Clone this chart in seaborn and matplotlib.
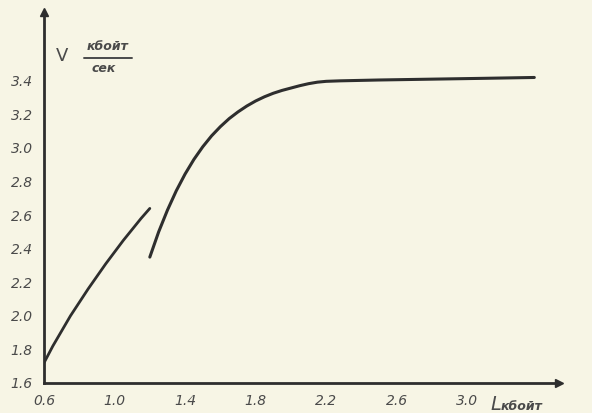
import matplotlib.pyplot as plt
import seaborn as sns
import pandas as pd

# скорость V (кбойт/сек) в зависимости от L (кбойт)
L1 = [0.60, 0.65, 0.70, 0.75, 0.80, 0.85, 0.90, 0.95, 1.00, 1.05, 1.10, 1.15, 1.20]
V1 = [1.72, 1.82, 1.91, 2.00, 2.08, 2.16, 2.235, 2.31, 2.38, 2.45, 2.515, 2.58, 2.64]

L2 = [1.20, 1.25, 1.30, 1.35, 1.40, 1.45, 1.50, 1.55, 1.60, 1.65, 1.70, 1.75, 1.80,
      1.85, 1.90, 1.95, 2.00, 2.05, 2.10, 2.15, 2.20, 2.28, 2.50, 2.80, 3.10, 3.38]
V2 = [2.350, 2.500, 2.630, 2.745, 2.845, 2.932, 3.007, 3.072, 3.127, 3.175, 3.215, 3.250,
      3.280, 3.305, 3.326, 3.343, 3.357, 3.371, 3.383, 3.392, 3.397, 3.400, 3.405, 3.410,
      3.415, 3.420]

x_ticks = [0.6, 1.0, 1.4, 1.8, 2.2, 2.6, 3.0]
y_ticks = [1.6, 1.8, 2.0, 2.2, 2.4, 2.6, 2.8, 3.0, 3.2, 3.4]

paper = '#f7f5e5'
ink = '#2e2e2e'
txt = '#4a4a4a'

sns.set_style('white')
plt.rcParams['font.family'] = ['DejaVu Sans']

fig = plt.figure(figsize=(5.92, 4.13), dpi=100, facecolor=paper)
ax = fig.add_axes([44/592, 30/413, 515/592, 371/413])
ax.set_facecolor(paper)

d1 = pd.DataFrame({'L': L1, 'V': V1})
d2 = pd.DataFrame({'L': L2, 'V': V2})
sns.lineplot(data=d1, x='L', y='V', ax=ax, color=ink, lw=2.0, sort=False, estimator=None,
             solid_joinstyle='round', solid_capstyle='round')
sns.lineplot(data=d2, x='L', y='V', ax=ax, color=ink, lw=2.2, sort=False, estimator=None,
             solid_joinstyle='round', solid_capstyle='round')

ax.set_xlim(0.6, 3.52)
ax.set_ylim(1.6, 3.81)

# оси со стрелками, без рамки сверху и справа
sns.despine(ax=ax)
for s in ['left', 'bottom']:
    ax.spines[s].set_linewidth(2.0)
    ax.spines[s].set_color(ink)
ax.plot(1, 0, marker='>', ms=6, color=ink, transform=ax.transAxes, clip_on=False)
ax.plot(0, 1, marker='^', ms=6, color=ink, transform=ax.transAxes, clip_on=False)

ax.set_xticks(x_ticks)
ax.set_yticks(y_ticks)
ax.set_xticklabels([f'{v:.1f}' for v in x_ticks], fontstyle='italic', fontsize=10, color=txt)
ax.set_yticklabels([f'{v:.1f}' for v in y_ticks], fontstyle='italic', fontsize=10, color=txt)
ax.tick_params(axis='y', direction='inout', length=6, width=1, color=ink, pad=5)
ax.tick_params(axis='x', direction='inout', length=4, width=1, color=ink, pad=6)
ax.set_xlabel('')
ax.set_ylabel('')

# подписи осей
fig.text(62/592, 1 - 56/413, 'V', fontsize=13, color=txt, ha='center', va='center')
fig.text(108/592, 1 - 47/413, 'кбойт', fontsize=9, fontstyle='italic', fontweight='bold',
         color=txt, ha='center', va='center')
fig.add_artist(plt.Line2D([84/592, 132/592], [1 - 58/413, 1 - 58/413], color=txt, lw=1.4))
fig.text(104/592, 1 - 68/413, 'сек', fontsize=9, fontstyle='italic', fontweight='bold',
         color=txt, ha='center', va='center')

fig.text(496/592, 1 - 404/413, 'L', fontsize=14, fontstyle='italic', color=txt, ha='center', va='center')
fig.text(522/592, 1 - 406/413, 'кбойт', fontsize=9, fontstyle='italic', fontweight='bold',
         color=txt, ha='center', va='center')

fig.savefig('out.png', dpi=100, facecolor=paper)
